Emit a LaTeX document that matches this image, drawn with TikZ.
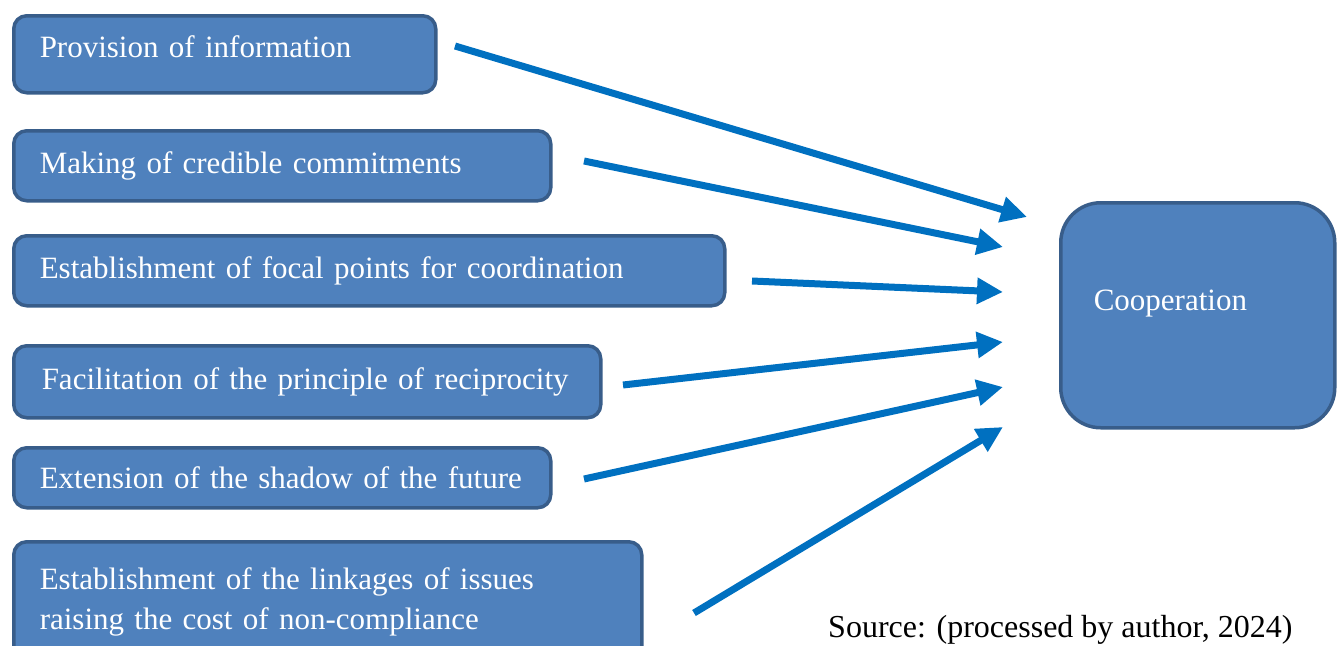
\documentclass[tikz,border=0pt]{standalone}
\usepackage{fontspec}
\setmainfont{Liberation Serif}
\usetikzlibrary{arrows.meta}
\definecolor{boxfill}{HTML}{4F81BD}
\definecolor{boxline}{HTML}{385D8A}
\definecolor{arrowblue}{HTML}{0070C0}
\tikzset{
  sbox/.style={draw=boxline, fill=boxfill, line width=3.5pt, rounded corners=13pt,
    anchor=north west, inner xsep=26pt, inner ysep=0pt, align=left, text=white,
    font=\fontsize{31}{40}\selectfont},
  bigbox/.style={draw=boxline, fill=boxfill, line width=3.5pt, rounded corners=40pt,
    anchor=north west, inner xsep=33pt, inner ysep=0pt, align=left, text=white,
    font=\fontsize{31}{40}\selectfont},
  conn/.style={draw=arrowblue, line width=7pt, -{Triangle[length=26pt,width=25pt]}},
}
\begin{document}
\begin{tikzpicture}[x=1pt,y=-1pt]
\useasboundingbox (0,0) rectangle (1338,645);
\node[sbox, minimum width=422pt, text width=370pt, text height=42pt, text depth=35pt] (b1) at (12,14) {Provision of information};
\node[sbox, minimum width=537pt, minimum height=70pt, text width=485pt] (b2) at (12,129) {Making of credible commitments};
\node[sbox, minimum width=711pt, minimum height=70pt, text width=659pt] (b3) at (12,234) {Establishment of focal points for coordination};
\node[sbox, minimum width=587pt, minimum height=72pt, text width=531pt, inner xsep=28pt] (b4) at (12,344) {Facilitation of the principle of reciprocity};
\node[sbox, minimum width=537pt, minimum height=60pt, text width=485pt] (b5) at (12,446) {Extension of the shadow of the future};
\node[sbox, minimum width=628pt, minimum height=120pt, text width=576pt] (b6) at (12,540) {Establishment of the linkages of issues\\raising the cost of non-compliance};
\node[bigbox, minimum width=274pt, text width=208pt, text height=108pt, text depth=117pt] (coop) at (1059,201) {Cooperation};
\node[anchor=base west, font=\fontsize{32}{38}\selectfont, inner sep=0pt] (src) at (828,637) {Source: (processed by author, 2024)};
\coordinate (s1) at (455,46);  \coordinate (t1) at (1027,217);
\coordinate (s2) at (584,161); \coordinate (t2) at (1003,247);
\coordinate (s3) at (752,281); \coordinate (t3) at (1003,292);
\coordinate (s4) at (623,385); \coordinate (t4) at (1003,342);
\coordinate (s5) at (584,479); \coordinate (t5) at (1003,387);
\coordinate (s6) at (694,613); \coordinate (t6) at (1003,427);
\foreach \i in {1,...,6} {\draw[conn] (s\i) -- (t\i);}
\end{tikzpicture}
\end{document}
